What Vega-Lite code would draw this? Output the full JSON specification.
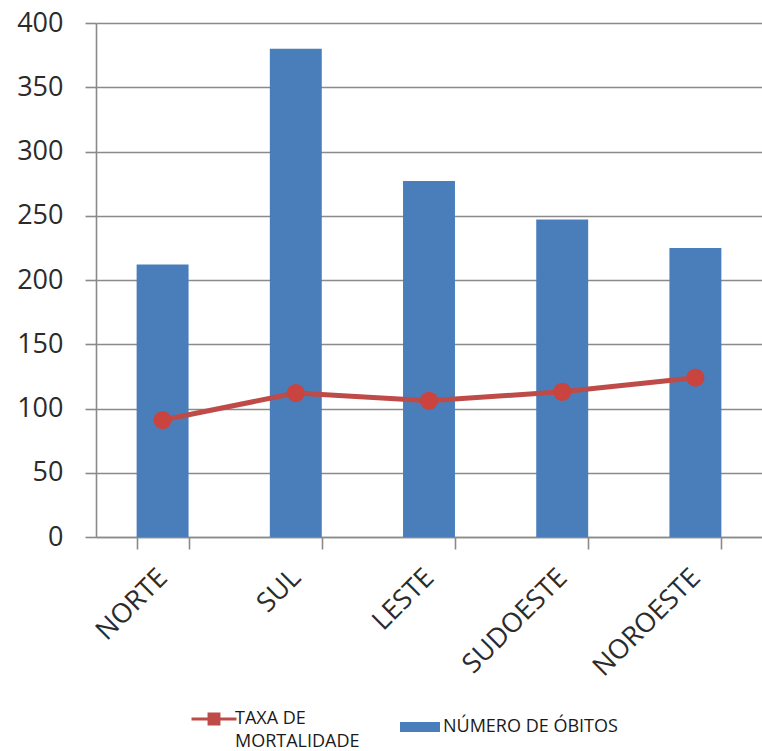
{
  "$schema": "https://vega.github.io/schema/vega-lite/v6.json",
  "width": 666,
  "height": 514,
  "autosize": {"type": "none"},
  "padding": {"left": 96, "top": 23, "right": 0, "bottom": 214},
  "background": "white",
  "config": {
    "view": {"stroke": null},
    "font": "Open Sans",
    "axisY": {
      "title": null,
      "grid": true,
      "gridColor": "#8a8a8a",
      "gridWidth": 1.6,
      "domainColor": "#8a8a8a",
      "domainWidth": 1.6,
      "tickColor": "#8a8a8a",
      "tickWidth": 1.6,
      "tickSize": 11,
      "labelFontSize": 27,
      "labelColor": "#2b2b2b",
      "labelPadding": 22,
      "tickCount": 8
    },
    "axisX": {
      "title": null,
      "labelAngle": -45,
      "labelFontSize": 27,
      "labelColor": "#2b2b2b",
      "tickBand": "extent",
      "tickSize": 12,
      "tickColor": "#8a8a8a",
      "tickWidth": 1.6,
      "domainColor": "#8a8a8a",
      "domainWidth": 1.6,
      "labelPadding": 15,
      "labelOffset": -9
    },
    "legend": {
      "labelFontSize": 18,
      "labelColor": "#1a1a1a",
      "labelLimit": 400,
      "padding": 0,
      "title": null
    }
  },
  "data": {
    "values": [
      {"regiao": "NORTE", "obitos": 212, "taxa": 91},
      {"regiao": "SUL", "obitos": 380, "taxa": 112},
      {"regiao": "LESTE", "obitos": 277, "taxa": 106},
      {"regiao": "SUDOESTE", "obitos": 247, "taxa": 113},
      {"regiao": "NOROESTE", "obitos": 225, "taxa": 124}
    ]
  },
  "encoding": {
    "x": {
      "field": "regiao",
      "type": "nominal",
      "sort": null,
      "scale": {"paddingInner": 0.61, "paddingOuter": 0.305}
    }
  },
  "layer": [
    {
      "mark": {"type": "bar"},
      "encoding": {
        "y": {"field": "obitos", "type": "quantitative", "title": null, "scale": {"domain": [0, 400]}},
        "fill": {
          "datum": "NÚMERO DE ÓBITOS",
          "scale": {"range": ["#4A7EBB"]},
          "legend": {
            "orient": "none",
            "legendX": 304,
            "legendY": 684,
            "symbolType": "M-1,-0.25H1V0.25H-1Z",
            "symbolSize": 1600,
            "symbolStrokeWidth": 0,
            "symbolOpacity": 1,
            "labelOffset": 3
          }
        }
      }
    },
    {
      "mark": {"type": "line", "strokeWidth": 5},
      "encoding": {
        "y": {"field": "taxa", "type": "quantitative", "title": null},
        "stroke": {
          "datum": "TAXA DE MORTALIDADE",
          "scale": {"range": ["#BE4B48"]},
          "legend": {
            "orient": "none",
            "legendX": 94,
            "legendY": 672,
            "symbolType": "M-1,0H1M-0.22,-0.22H0.22V0.22H-0.22Z",
            "symbolSize": 2025,
            "symbolStrokeWidth": 3,
            "symbolFillColor": "#BE4B48",
            "labelOffset": -3,
            "labelExpr": "['TAXA DE', 'MORTALIDADE']",
            "encode": {"labels": {"update": {"lineHeight": {"value": 23}}}}
          }
        }
      }
    },
    {
      "mark": {"type": "point", "filled": true, "fill": "#C9433F", "opacity": 1, "size": 330},
      "encoding": {
        "y": {"field": "taxa", "type": "quantitative", "title": null}
      }
    }
  ]
}
